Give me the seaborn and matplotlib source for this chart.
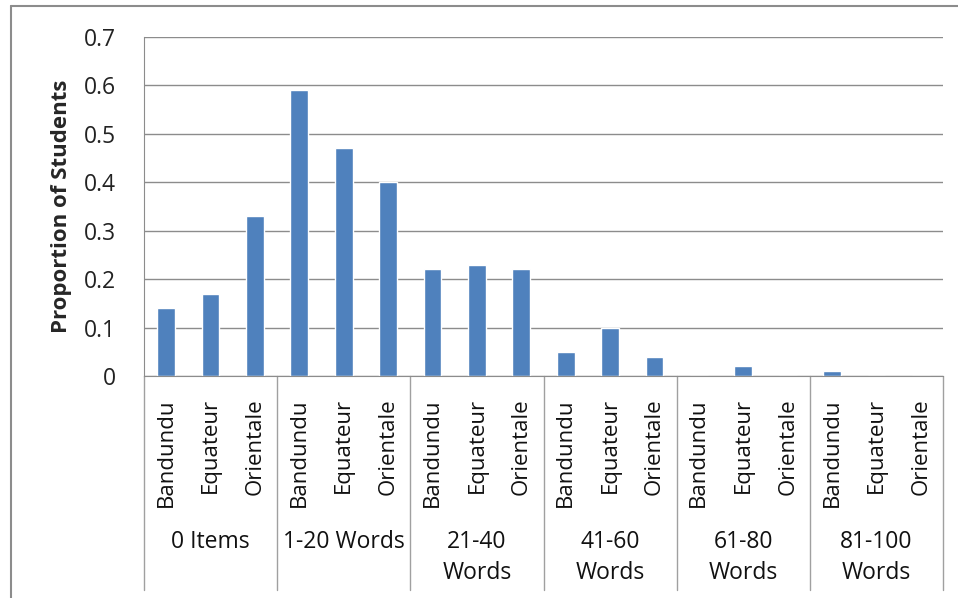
import matplotlib
matplotlib.use('Agg')
import matplotlib.pyplot as plt
import matplotlib.transforms as mtransforms
import pandas as pd
import seaborn as sns

# data
groups = ['0 Items', '1-20 Words', '21-40\nWords', '41-60\nWords', '61-80\nWords', '81-100\nWords']
provinces = ['Bandundu', 'Equateur', 'Orientale']
bandundu = [0.14, 0.59, 0.22, 0.05, 0.00, 0.01]
equateur = [0.17, 0.47, 0.23, 0.10, 0.02, 0.00]
orientale = [0.33, 0.40, 0.22, 0.04, 0.00, 0.00]
yticks = [0, 0.1, 0.2, 0.3, 0.4, 0.5, 0.6, 0.7]
ytick_labels = ['0', '0.1', '0.2', '0.3', '0.4', '0.5', '0.6', '0.7']

rows = []
for g, b, e, o in zip(groups, bandundu, equateur, orientale):
    for p, v in zip(provinces, [b, e, o]):
        rows.append({'group': g, 'province': p, 'key': g + '|' + p, 'value': v})
df = pd.DataFrame(rows)

sns.set_style('white')
plt.rcParams['font.family'] = ['Open Sans', 'DejaVu Sans']

fig = plt.figure(figsize=(9.58, 5.98), dpi=100)
ax = fig.add_axes([144 / 958, 1 - 376 / 598, 799 / 958, 339 / 598])

sns.barplot(data=df, x='key', y='value', order=list(df['key']), color='#4F81BD',
            saturation=1, width=0.4, ax=ax)

ax.set_ylim(0, 0.7)
ax.set_xlim(-0.5, len(df) - 0.5)
ax.set_yticks(yticks)
ax.set_yticklabels(ytick_labels, fontsize=16.5, color='#222222')
ax.yaxis.grid(True, color='#8c8c8c', linewidth=1)
ax.set_axisbelow(True)
ax.tick_params(axis='y', length=0, pad=20)
ax.tick_params(axis='x', length=0, pad=16)
ax.set_xticks(range(len(df)))
ax.set_xticklabels(df['province'], rotation=90, fontsize=16, color='#111111', va='top')
ax.set_xlabel('')
ax.set_ylabel('Proportion of Students', fontsize=16, fontweight='bold', labelpad=9)

for s in ['top', 'right']:
    ax.spines[s].set_visible(False)
ax.spines['left'].set_color('#8c8c8c')
ax.spines['bottom'].set_color('#8c8c8c')

# group separators and group labels below the axis
trans = mtransforms.blended_transform_factory(ax.transData, fig.transFigure)
sep_bottom = 1 - 590 / 598
for i in range(len(groups) + 1):
    x = i * 3 - 0.5
    ax.plot([x, x], [1 - 376 / 598, sep_bottom], transform=trans, color='#a0a0a0',
            linewidth=1, clip_on=False)
for i, g in enumerate(groups):
    ax.text(i * 3 + 1, 1 - 530 / 598, g, transform=trans, ha='center', va='top',
            fontsize=16.5, color='#111111', linespacing=1.4)

# outer chart frame
fig.add_artist(plt.Line2D([11 / 958, 11 / 958], [0, 1 - 6 / 598], color='#8c8c8c',
                          linewidth=1.5, transform=fig.transFigure))
fig.add_artist(plt.Line2D([11 / 958, 1], [1 - 6 / 598, 1 - 6 / 598], color='#8c8c8c',
                          linewidth=1.5, transform=fig.transFigure))

fig.savefig('out.png', dpi=100)
